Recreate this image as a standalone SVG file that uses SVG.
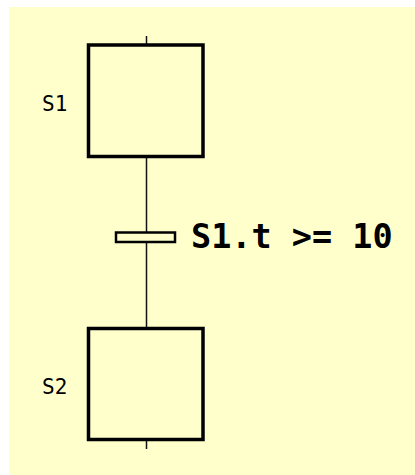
<svg xmlns="http://www.w3.org/2000/svg" width="415" height="475" viewBox="0 0 415 475">
<style>
.step{fill:none;stroke:#000;stroke-width:3.5}
.lbl{font-family:"DejaVu Sans Mono",monospace;font-size:21px;fill:#000}
.cond{font-family:"DejaVu Sans Mono",monospace;font-size:33.5px;font-weight:bold;fill:#000}
.link{stroke:#111;stroke-width:1.5;fill:none}
</style>
<rect x="9" y="7" width="406" height="468" fill="#FFFFCC"/>
<g id="connectors">
<line class="link" x1="146.5" y1="36" x2="146.5" y2="45"/>
<line class="link" x1="146.5" y1="157" x2="146.5" y2="232"/>
<line class="link" x1="146.5" y1="242" x2="146.5" y2="328"/>
<line class="link" x1="146.5" y1="440" x2="146.5" y2="449"/>
</g>
<g id="S1">
<rect class="step" x="88.5" y="45" width="114.5" height="111.5"/>
<text class="lbl" x="42" y="111">S1</text>
</g>
<g id="T1">
<rect x="116" y="232.5" width="59" height="9.5" fill="#FFFFCC" stroke="#000" stroke-width="2.5"/>
<text class="cond" x="191" y="248">S1.t &gt;= 10</text>
</g>
<g id="S2">
<rect class="step" x="88.5" y="328.5" width="114.5" height="111"/>
<text class="lbl" x="42" y="394">S2</text>
</g>
</svg>
